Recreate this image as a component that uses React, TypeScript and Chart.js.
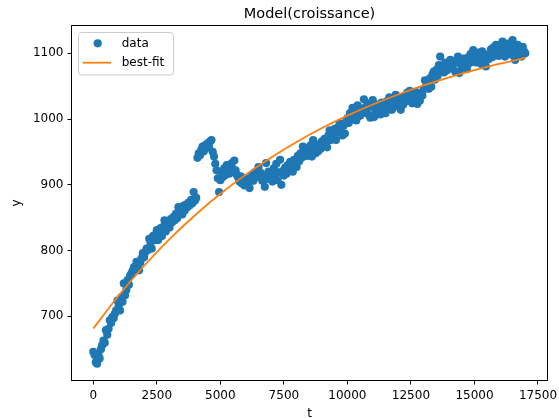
import React, { useEffect, useRef } from "react";
import { Chart, registerables } from "chart.js";
Chart.register(...registerables);

// sampling step of t for the data series
const T_STEP = 50;

// observed values y(t), t = 0, 50, 100, ..., 17000
const DATA_Y = [
  646, 641, 630, 628, 641, 636, 650, 656, 663, 660,
  679, 672, 681, 694, 690, 699, 697, 704, 709, 724,
  717, 709, 729, 722, 750, 732, 740, 755, 748, 762,
  765, 769, 775, 771, 783, 778, 770, 782, 788, 796,
  790, 798, 803, 801, 818, 812, 803, 822, 823, 816,
  831, 816, 826, 834, 822, 836, 846, 829, 838, 842,
  835, 848, 843, 851, 846, 856, 849, 866, 858, 862,
  855, 868, 861, 870, 866, 873, 869, 877, 872, 889,
  876, 880, 941, 948, 945, 953, 958, 951, 960, 956,
  963, 958, 966, 968, 950, 943, 932, 922, 910, 889,
  907, 918, 912, 925, 915, 930, 921, 917, 926, 933,
  924, 937, 922, 915, 911, 905, 913, 902, 908, 899,
  910, 900, 904, 895, 909, 914, 906, 919, 912, 921,
  927, 912, 918, 906, 915, 897, 933, 909, 920, 914,
  917, 905, 925, 912, 932, 907, 919, 938, 900, 921,
  914, 926, 917, 930, 922, 935, 927, 920, 938, 931,
  927, 944, 936, 948, 941, 958, 946, 952, 944, 955,
  949, 960, 943, 968, 953, 948, 958, 951, 962, 955,
  966, 959, 970, 963, 957, 975, 983, 968, 977, 972,
  985, 968, 980, 988, 993, 981, 975, 990, 978, 996,
  1001, 994, 1009, 1002, 1017, 999, 1006, 998, 1021, 1010,
  1005, 1015, 1009, 1030, 1018, 1011, 1024, 1006, 1002, 1019,
  1029, 1003, 1014, 1022, 1010, 1018, 1007, 1025, 1013, 1020,
  1009, 1027, 1016, 1033, 1021, 1014, 1030, 1024, 1037, 1026,
  1019, 1032, 1014, 1028, 1022, 1035, 1027, 1040, 1031, 1043,
  1029, 1024, 1037, 1030, 1041, 1023, 1034, 1028, 1039, 1036,
  1045, 1059, 1050, 1057, 1046, 1062, 1049, 1068, 1072, 1060,
  1075, 1066, 1082, 1095, 1078, 1080, 1071, 1086, 1074, 1083,
  1076, 1090, 1079, 1080, 1087, 1072, 1089, 1095, 1070, 1084,
  1078, 1092, 1081, 1088, 1076, 1094, 1085, 1099, 1090, 1105,
  1093, 1086, 1101, 1090, 1097, 1084, 1103, 1092, 1088, 1080,
  1096, 1091, 1100, 1106, 1094, 1109, 1099, 1113, 1104, 1096,
  1110, 1102, 1118, 1107, 1095, 1112, 1101, 1115, 1106, 1098,
  1120, 1111, 1090, 1104, 1113, 1099, 1107, 1095, 1110, 1103,
  1100,
];

// best-fit curve
const FIT_T = [0, 1000, 2000, 3000, 4000, 5000, 6000, 7000, 8000, 9000, 10000, 11000, 12000, 13000, 14000, 15000, 16000, 17000];
const FIT_Y = [681.4, 731.7, 776.9, 817.4, 853.7, 886.3, 915.5, 941.7, 965.2, 986.3, 1005.2, 1022.2, 1037.4, 1051.1, 1063.3, 1074.3, 1084.2, 1093.0];

// tick labels
const X_TICKS = [0, 2500, 5000, 7500, 10000, 12500, 15000, 17500];
const Y_TICKS = [700, 800, 900, 1000, 1100];

const TITLE = "Model(croissance)";
const X_LABEL = "t";
const Y_LABEL = "y";
const LEGEND_LABELS = ["data", "best-fit"];

const BLUE = "#1f77b4";
const ORANGE = "#ff7f0e";
const FONT = "'DejaVu Sans', sans-serif";

export default function App() {
  const ref = useRef<HTMLCanvasElement>(null);

  useEffect(() => {
    const canvas = ref.current!;
    const decor = {
      id: "decor",
      afterDraw(chart: any) {
        const { ctx, chartArea: a } = chart;
        ctx.save();
        // frame
        ctx.strokeStyle = "#000";
        ctx.lineWidth = 1;
        ctx.strokeRect(a.left, a.top, a.right - a.left, a.bottom - a.top);

        // titles
        ctx.fillStyle = "#000";
        ctx.textAlign = "center";
        ctx.textBaseline = "alphabetic";
        ctx.font = `14.5px ${FONT}`;
        const cx = (a.left + a.right) / 2;
        ctx.fillText(TITLE, cx, 18);
        ctx.font = `12px ${FONT}`;
        ctx.fillText(X_LABEL, cx, 416.5);
        ctx.save();
        ctx.translate(20, (a.top + a.bottom) / 2);
        ctx.rotate(-Math.PI / 2);
        ctx.fillText(Y_LABEL, 0, 0);
        ctx.restore();

        // legend
        const bx = 78.5, by = 32.5, bw = 95, bh = 42.5;
        ctx.beginPath();
        (ctx as any).roundRect(bx, by, bw, bh, 3);
        ctx.fillStyle = "rgba(255,255,255,0.8)";
        ctx.fill();
        ctx.strokeStyle = "#cccccc";
        ctx.lineWidth = 1;
        ctx.stroke();

        ctx.beginPath();
        ctx.arc(97.7, 43.3, 4.1, 0, Math.PI * 2);
        ctx.fillStyle = BLUE;
        ctx.fill();

        ctx.beginPath();
        ctx.moveTo(82.7, 62.7);
        ctx.lineTo(111, 62.7);
        ctx.strokeStyle = ORANGE;
        ctx.lineWidth = 1.8;
        ctx.stroke();

        ctx.fillStyle = "#000";
        ctx.textAlign = "left";
        ctx.textBaseline = "middle";
        ctx.font = `12px ${FONT}`;
        ctx.fillText(LEGEND_LABELS[0], 121.7, 43.5);
        ctx.fillText(LEGEND_LABELS[1], 121.7, 62.9);
        ctx.restore();
      },
    };

    const tickFont = { family: FONT, size: 12 };
    const chart = new Chart(canvas, {
      type: "scatter",
      data: {
        datasets: [
          {
            type: "line",
            label: LEGEND_LABELS[1],
            data: FIT_T.map((x, i) => ({ x, y: FIT_Y[i] })),
            borderColor: ORANGE,
            borderWidth: 1.8,
            pointRadius: 0,
            cubicInterpolationMode: "monotone",
            fill: false,
            order: 1,
          } as any,
          {
            type: "scatter",
            label: LEGEND_LABELS[0],
            data: DATA_Y.map((y, i) => ({ x: i * T_STEP, y })),
            pointRadius: 4.1,
            pointBackgroundColor: BLUE,
            pointBorderWidth: 0,
            pointBorderColor: BLUE,
            order: 2,
          } as any,
        ],
      },
      options: {
        responsive: false,
        devicePixelRatio: 1,
        animation: false,
        events: [],
        layout: { padding: { left: 0, top: 25.5, right: 11.5, bottom: 0 } },
        plugins: {
          legend: { display: false },
          title: { display: false },
          tooltip: { enabled: false },
        },
        scales: {
          x: {
            type: "linear",
            min: -858,
            max: 17874,
            border: { display: false },
            grid: { display: true, drawOnChartArea: false, drawTicks: true, tickLength: 4, color: "#000", lineWidth: 1 },
            ticks: { color: "#000", font: tickFont, padding: 4, maxRotation: 0, minRotation: 0, autoSkip: false, callback: (v: any) => String(v) },
            afterBuildTicks: (s: any) => { s.ticks = X_TICKS.map((value) => ({ value })); },
            afterFit: (s: any) => { s.height = 37.5; s.paddingLeft = 0; s.paddingRight = 0; },
          },
          y: {
            type: "linear",
            min: 602.4,
            max: 1142.3,
            border: { display: false },
            grid: { display: true, drawOnChartArea: false, drawTicks: true, tickLength: 4, color: "#000", lineWidth: 1 },
            ticks: { color: "#000", font: tickFont, padding: 4, autoSkip: false, callback: (v: any) => String(v) },
            afterBuildTicks: (s: any) => { s.ticks = Y_TICKS.map((value) => ({ value })); },
            afterFit: (s: any) => { s.width = 71.5; s.paddingTop = 0; s.paddingBottom = 0; },
          },
        },
      },
      plugins: [decor],
    } as any);
    return () => chart.destroy();
  }, []);

  return (
    <div style={{ position: "fixed", left: 0, top: 0, width: 559, height: 418, background: "#fff" }}>
      <canvas ref={ref} width={559} height={418} style={{ display: "block", width: 559, height: 418 }} />
    </div>
  );
}
